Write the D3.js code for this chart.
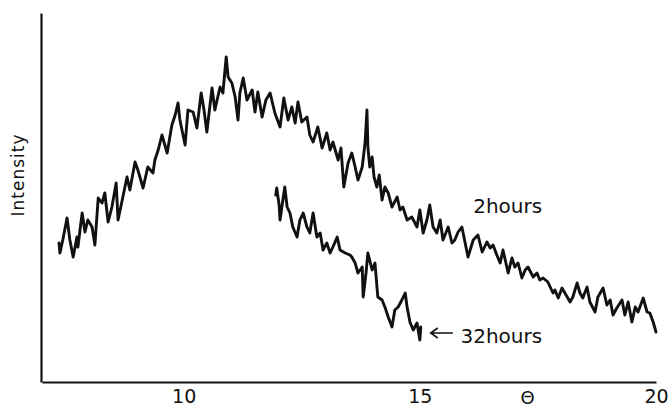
<!DOCTYPE html>
<html>
<head>
<meta charset="utf-8">
<script src="https://cdn.jsdelivr.net/npm/d3@7"></script>
<style>
  html, body { margin: 0; padding: 0; background: #fff; overflow: hidden; }
  svg { display: block; }
  text { font-family: "DejaVu Sans", sans-serif; fill: #111; }
</style>
</head>
<body>
<svg id="chart" width="670" height="409"></svg>
<script>
// ---- data (theta, arbitrary intensity) ----
const theta2h = [7.36,7.38,7.44,7.53,7.59,7.66,7.74,7.76,7.85,7.91,7.97,8.06,8.12,8.19,8.27,8.33,8.40,8.48,8.57,8.61,8.69,8.80,8.86,8.97,9.03,9.14,9.24,9.35,9.39,9.46,9.54,9.65,9.75,9.82,9.88,9.92,10.03,10.09,10.20,10.28,10.37,10.43,10.49,10.60,10.66,10.77,10.83,10.90,10.94,11.02,11.09,11.15,11.19,11.26,11.34,11.45,11.51,11.57,11.66,11.74,11.83,11.93,12.04,12.12,12.21,12.29,12.36,12.42,12.50,12.61,12.67,12.74,12.84,12.93,13.03,13.10,13.16,13.27,13.33,13.39,13.48,13.56,13.63,13.69,13.78,13.84,13.88,13.90,13.94,13.99,14.03,14.09,14.14,14.20,14.26,14.33,14.41,14.52,14.58,14.64,14.73,14.83,14.94,15.00,15.07,15.15,15.21,15.28,15.36,15.43,15.49,15.60,15.68,15.74,15.81,15.89,16.02,16.13,16.23,16.32,16.42,16.49,16.55,16.63,16.70,16.76,16.87,16.95,17.01,17.08,17.16,17.23,17.29,17.40,17.48,17.54,17.61,17.71,17.82,17.86,17.93,18.01,18.12,18.18,18.24,18.33,18.39,18.45,18.54,18.60,18.71,18.77,18.88,18.96,19.03,19.09,19.17,19.28,19.34,19.41,19.49,19.56,19.62,19.73,19.81,19.87,19.94,20.00];
const int2h = [139,129,142,164,142,125,145,135,169,150,162,155,137,184,179,189,160,175,199,162,180,205,192,220,212,194,215,209,222,232,247,229,257,267,279,262,237,272,270,254,289,272,250,294,272,295,289,325,305,299,285,262,289,304,282,292,270,290,265,282,289,269,255,284,262,275,259,280,260,265,247,240,255,234,249,232,240,222,234,195,219,229,215,202,215,239,272,235,215,225,205,195,207,182,195,189,175,185,172,175,162,165,155,172,149,162,177,155,149,162,142,155,139,142,150,155,125,142,147,130,140,134,137,127,119,132,109,124,115,119,104,112,115,105,109,102,104,100,89,92,84,94,85,80,85,99,89,84,95,80,70,85,94,77,82,67,74,82,67,80,60,75,70,84,70,69,60,50];

const theta32h = [11.95,11.97,12.02,12.04,12.10,12.14,12.19,12.25,12.31,12.40,12.46,12.53,12.61,12.67,12.74,12.82,12.89,12.95,13.03,13.10,13.16,13.25,13.31,13.42,13.52,13.56,13.63,13.69,13.78,13.80,13.86,13.90,13.99,14.05,14.11,14.20,14.26,14.33,14.41,14.47,14.54,14.62,14.69,14.73,14.79,14.86,14.94,15.00,15.02];
const int32h = [187,194,177,162,182,195,175,169,155,145,162,169,155,149,169,145,149,132,139,129,135,145,132,129,127,125,119,109,115,85,109,129,112,119,85,82,75,65,55,72,75,82,89,75,60,52,59,42,55];

const xTicks = [10, 15, 20];
const xTickLabels = ["10", "15", "20"];
const axisSymbol = "\u0398";
const thetaLabelPos = 17.28;
const yLabel = "Intensity";
const seriesLabels = ["2hours", "32hours"];

// ---- layout ----
const svg = d3.select("#chart");
const x = d3.scaleLinear().domain([7, 20]).range([42, 656]);
const y = d3.scaleLinear().domain([0, 369]).range([382, 13]);

const s2h = theta2h.map((t, i) => [t, int2h[i]]);
const s32h = theta32h.map((t, i) => [t, int32h[i]]);

const line = d3.line().x(d => x(d[0])).y(d => y(d[1]));

// axes
const xAxis = d3.axisBottom(x).tickValues(xTicks).tickFormat((d, i) => xTickLabels[i])
  .tickSize(0).tickSizeOuter(0).tickPadding(8);
const gx = svg.append("g").attr("transform", `translate(0,${y(0)})`).call(xAxis);
gx.select(".domain").attr("stroke", "#111").attr("stroke-width", 2.2);
gx.selectAll("text").style("font-family", "DejaVu Sans, sans-serif").style("font-size", "19px").attr("fill", "#111");

const yAxis = d3.axisLeft(y).tickValues([]).tickSize(0).tickSizeOuter(0);
const gy = svg.append("g").attr("transform", `translate(${x(7) - 1},0)`).call(yAxis);
gy.select(".domain").attr("stroke", "#111").attr("stroke-width", 2.2);

// theta symbol on axis
svg.append("text").attr("x", x(thetaLabelPos)).attr("y", y(0) + 22)
  .attr("text-anchor", "middle").style("font-size", "18px").text(axisSymbol);

// y label
svg.append("text").attr("transform", `translate(24,${y(207)}) rotate(-90)`)
  .attr("text-anchor", "middle").style("font-size", "17px").style("letter-spacing", "1px").text(yLabel);

// curves
[s2h, s32h].forEach(s => {
  svg.append("path").datum(s).attr("d", line)
    .attr("fill", "none").attr("stroke", "#111").attr("stroke-width", 2.9)
    .attr("stroke-linejoin", "round").attr("stroke-linecap", "round");
});

// labels
svg.append("text").attr("x", x(16.13)).attr("y", y(169)).style("font-size", "20px").text(seriesLabels[0]);

const arrowY = y(49);
const ax0 = x(15.23), ax1 = x(15.70);
svg.append("path")
  .attr("d", `M${ax1},${arrowY}H${ax0}M${ax0 + 7},${arrowY - 5}L${ax0},${arrowY}L${ax0 + 7},${arrowY + 5}`)
  .attr("fill", "none").attr("stroke", "#111").attr("stroke-width", 1.6);
svg.append("text").attr("x", x(15.86)).attr("y", y(39)).style("font-size", "20px").text(seriesLabels[1]);
</script>
</body>
</html>
